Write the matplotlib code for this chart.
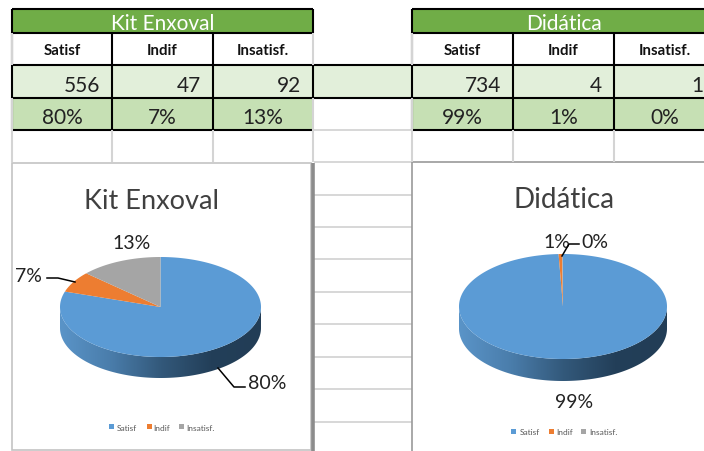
import numpy as np
import matplotlib
matplotlib.use("Agg")
import matplotlib.pyplot as plt
from matplotlib.patches import Polygon, Rectangle
from matplotlib.colors import LinearSegmentedColormap

plt.rcParams['font.family'] = ['Lato', 'DejaVu Sans']

categories = ["Satisf", "Indif", "Insatisf."]
kit_title = "Kit Enxoval"
kit_values = [556, 47, 92]
kit_pct = ["80%", "7%", "13%"]
did_title = "Didática"
did_values = [734, 4, 1]
did_pct = ["99%", "1%", "0%"]

colors = ["#5B9BD5", "#ED7D31", "#A5A5A5"]
GRID = "#D4D4D4"
side_cmap = LinearSegmentedColormap.from_list(
    "side", ["#5A94C8", "#4A7DAB", "#33597B", "#233F59", "#223D56"])

fig = plt.figure(figsize=(7.04, 4.52), dpi=100)
ax = fig.add_axes([0, 0, 1, 1])


def hline(x0, x1, y, c="black", lw=1.5, z=3):
    ax.plot([x0, x1], [y, y], color=c, lw=lw, zorder=z, solid_capstyle="butt")


def vline(x, y0, y1, c="black", lw=1.5, z=3):
    ax.plot([x, x], [y0, y1], color=c, lw=lw, zorder=z, solid_capstyle="butt")


def table(xs, title, vals, pct):
    x0, x3 = xs[0], xs[3]
    xe = min(x3, 704)
    ax.add_patch(Rectangle((x0, 10), xe - x0, 24, fc="#70AD47", ec="none", zorder=1))
    ax.add_patch(Rectangle((x0, 66), xe - x0, 33, fc="#E2EFDA", ec="none", zorder=1))
    ax.add_patch(Rectangle((x0, 99), xe - x0, 32, fc="#C6E0B4", ec="none", zorder=1))
    ax.text((x0 + x3) / 2, 23.5, title, color="white", fontsize=15,
            ha="center", va="center", zorder=5)
    for i in range(3):
        c = (xs[i] + xs[i + 1]) / 2
        ax.text(c, 51, categories[i], fontsize=10.8, fontweight="bold",
                ha="center", va="center", color="#111111", zorder=5)
        ax.text(xs[i + 1] - 12, 85.5, str(vals[i]), fontsize=15,
                ha="right", va="center", color="#222222", zorder=5)
        ax.text(c, 117.5, pct[i], fontsize=15, ha="center", va="center",
                color="#222222", zorder=5)
    for y in (10, 34, 66, 99, 131):
        hline(x0, xe, y)
    for x in xs[:3]:
        vline(x, 34, 131, c="black")
        vline(x, 131, 163, c=GRID)
    vline(x0, 34, 66, c=GRID)
    vline(x0, 99, 131, c=GRID)
    vline(x0, 10, 34)
    if x3 <= 704:
        vline(x3, 10, 34)
        vline(x3, 66, 99)
        vline(x3, 34, 66, c=GRID)
        vline(x3, 99, 163, c=GRID)


def pie3d(vals, cx, cy, rx, ry, depth):
    # top-face outline parameter t: 0 at the top, clockwise
    t = np.radians(np.linspace(90, 270, 200))
    top = np.c_[cx + rx * np.sin(t), cy - ry * np.cos(t)]
    bottom = top[::-1] + [0, depth]
    band = Polygon(np.r_[top, bottom], closed=True, fc="none", ec="none",
                   transform=ax.transData)
    ax.add_patch(band)
    grad = np.linspace(0, 1, 256)[None, :]
    im = ax.imshow(grad, cmap=side_cmap, extent=[cx - rx, cx + rx, cy + ry + depth, cy - 1],
                   aspect="auto", zorder=2, interpolation="bilinear")
    im.set_clip_path(band)
    fracs = np.array(vals, float) / np.sum(vals)
    ends = np.cumsum(fracs) * 2 * np.pi
    starts = np.r_[0, ends[:-1]]
    for s, e, col in zip(starts, ends, colors):
        a = np.linspace(s, e, max(int((e - s) * 60), 3))
        pts = np.c_[cx + rx * np.sin(a), cy - ry * np.cos(a)]
        ax.add_patch(Polygon(np.r_[[[cx, cy]], pts], closed=True, fc=col, ec="none", zorder=3))


def legend(y, sq_x, txt_x):
    for sx, tx, col, name in zip(sq_x, txt_x, colors, categories):
        ax.add_patch(Rectangle((sx - 2.5, y - 2.5), 5, 5, fc=col, ec="none", zorder=4))
        ax.text(tx, y + 1, name, fontsize=6, color="#595959", ha="left", va="center", zorder=5)


# background grid to the right of the left chart
for y in (163, 196, 228, 260, 293, 325, 358, 390, 423):
    hline(314, 412, y, c=GRID, lw=1.3, z=0.5)
hline(12, 412, 131, c=GRID, lw=1.3, z=0.5)
hline(412, 704, 131, c=GRID, lw=1.3, z=0.5)

# light-green band continuing between the two tables
ax.add_patch(Rectangle((313, 66), 99, 33, fc="#E2EFDA", ec="none", zorder=1))
hline(313, 412, 66)
hline(313, 412, 99)

table([12, 112, 213, 313], kit_title, kit_values, kit_pct)
table([412, 513, 614, 715], did_title, did_values, did_pct)

# chart frames
ax.add_patch(Rectangle((12, 164), 299, 287, fc="white", ec="#C4C4C4", lw=1.2, zorder=1.5))
vline(312.5, 164, 452, c="#8C8C8C", lw=2.6)
ax.add_patch(Rectangle((412, 163), 300, 300, fc="white", ec="#9A9A9A", lw=1.2, zorder=1.5))

ax.text(151, 202, kit_title, fontsize=19.5, color="#404040", ha="center", va="center", zorder=5)
ax.text(564, 200, did_title, fontsize=20, color="#404040", ha="center", va="center", zorder=5)

pie3d(kit_values, 160.5, 308, 100.5, 50, 21)
pie3d(did_values, 563, 307.5, 104, 52.5, 22)

legend(427.5, [111, 149, 181], [117, 153, 186])
legend(432, [513, 551, 583], [520, 556, 589])

# data labels
label_kw = dict(fontsize=14, color="#222222", ha="center", va="center", zorder=6)
ax.text(267, 384, kit_pct[0], **label_kw)
ax.text(28, 276.5, kit_pct[1], **label_kw)
ax.text(132, 243.5, kit_pct[2], **label_kw)
ax.text(574, 403, did_pct[0], **label_kw)
ax.text(557, 242.5, did_pct[1], **label_kw)
ax.text(595, 242.5, did_pct[2], **label_kw)

# leader lines
for xs_, ys_ in (([47, 58, 75], [279, 279, 283]),
                 ([218, 234, 245], [369, 388, 388]),
                 ([562, 569, 579], [257, 245, 245])):
    ax.plot(xs_, ys_, color="black", lw=1.1, zorder=6)

ax.set_xlim(0, 704)
ax.set_ylim(452, 0)
ax.axis("off")
fig.savefig("out.png", dpi=100, facecolor="white")
